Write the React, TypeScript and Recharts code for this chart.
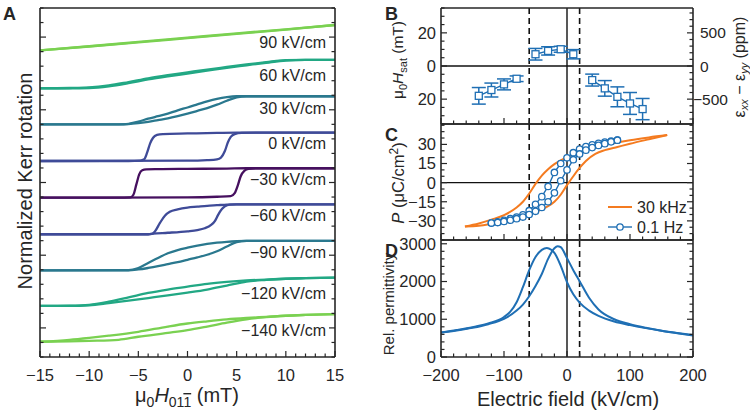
import React from "react";
import { LineChart, Line, XAxis, YAxis, ReferenceLine, ErrorBar } from "recharts";

const FONT = '"Liberation Sans", Arial, sans-serif';
const INK = "#262626";
const BLUE = "#1f6fb4";
const ORANGE = "#f47b20";

type Pt = [number, number];

// ---- panel A: Kerr loops, field in mT, normalised signal 0..1 per loop
const loopLabels = ["90 kV/cm", "60 kV/cm", "30 kV/cm", "0 kV/cm", "\u221230 kV/cm", "\u221260 kV/cm", "\u221290 kV/cm", "\u2212120 kV/cm", "\u2212140 kV/cm"];
const loopColors = ["#7ad151", "#22a884", "#2a788e", "#3f4b98", "#46105f", "#3f4b98", "#2a788e", "#22a884", "#7ad151"];
const loopBase = [21.09, 18.48, 16.0, 13.48, 10.96, 8.44, 5.96, 3.51, 1.05];
const loopSpan = [1.74, 1.95, 1.93, 1.95, 2.02, 2.06, 2.02, 1.95, 1.9];
const labelY = [42, 75, 108, 143, 179, 215, 252, 293, 330];

const up90: Pt[] = [[-15, 0], [-10, 0.15], [-5, 0.31], [0, 0.48], [5, 0.65], [10, 0.82], [15, 1]];
const down90: Pt[] = [[-15, 0], [-10, 0.16], [-5, 0.33], [0, 0.5], [5, 0.67], [10, 0.83], [15, 1]];
const up60: Pt[] = [[-15, 0], [-12, 0], [-10, 0.01], [-8, 0.07], [-6, 0.18], [-4, 0.31], [-2, 0.42], [0, 0.52], [2, 0.62], [4, 0.72], [6, 0.81], [8, 0.9], [10, 0.98], [12, 1], [15, 1]];
const down60: Pt[] = [[-15, 0], [-12, 0.01], [-10, 0.03], [-8, 0.1], [-6, 0.22], [-4, 0.35], [-2, 0.46], [0, 0.56], [2, 0.66], [4, 0.75], [6, 0.84], [8, 0.92], [10, 0.99], [12, 1], [15, 1]];
const up30: Pt[] = [[-15, 0], [-8, 0], [-6, 0.01], [-5, 0.04], [-4, 0.09], [-3, 0.15], [-2, 0.21], [-1, 0.29], [0, 0.38], [1, 0.48], [2, 0.58], [3, 0.7], [4, 0.84], [5, 0.96], [6, 1], [15, 1]];
const down30: Pt[] = [[-15, 0], [-7, 0], [-6, 0.02], [-5, 0.1], [-4, 0.2], [-3, 0.29], [-2, 0.38], [-1, 0.5], [0, 0.6], [1, 0.71], [2, 0.82], [3, 0.91], [4, 0.97], [5, 1], [15, 1]];
const up0: Pt[] = [[-15, 0], [0, 0.01], [2, 0.03], [3, 0.06], [3.4, 0.12], [3.8, 0.35], [4.1, 0.65], [4.4, 0.85], [4.8, 0.95], [5.5, 0.99], [7, 1], [15, 1]];
const down0: Pt[] = [[-15, 0], [-6, 0], [-4.8, 0.01], [-4.4, 0.06], [-4.1, 0.3], [-3.8, 0.62], [-3.5, 0.82], [-3.1, 0.92], [-2.5, 0.95], [0, 0.97], [3, 0.99], [5, 1], [15, 1]];
const upM30: Pt[] = [[-15, 0], [0, 0.01], [3, 0.03], [4.4, 0.05], [4.8, 0.15], [5.1, 0.4], [5.4, 0.72], [5.8, 0.92], [6.2, 0.98], [7, 1], [15, 1]];
const downM30: Pt[] = [[-15, 0], [-7, 0], [-5.8, 0.01], [-5.5, 0.1], [-5.2, 0.45], [-4.9, 0.8], [-4.6, 0.93], [-4.2, 0.96], [-3, 0.97], [0, 0.98], [4, 0.99], [6, 1], [15, 1]];
const upM60: Pt[] = [[-15, 0], [-4, 0], [-3.5, 0.02], [-2, 0.05], [0, 0.1], [1, 0.14], [1.75, 0.2], [2.4, 0.31], [2.8, 0.45], [3.1, 0.64], [3.5, 0.84], [3.8, 0.93], [4.3, 0.99], [5, 1], [15, 1]];
const downM60: Pt[] = [[-15, 0], [-4, 0], [-3.6, 0.01], [-3.3, 0.1], [-2.8, 0.38], [-2.3, 0.62], [-1.8, 0.75], [-1, 0.83], [0, 0.89], [1, 0.92], [2, 0.95], [3, 0.97], [4, 0.99], [5, 1], [15, 1]];
const upM90: Pt[] = [[-15, 0], [-6, 0], [-5, 0.03], [-4, 0.08], [-3, 0.14], [-2, 0.21], [-1, 0.28], [0, 0.36], [1, 0.44], [2, 0.53], [3, 0.65], [4, 0.81], [5, 0.96], [6, 1], [15, 1]];
const downM90: Pt[] = [[-15, 0], [-6, 0.01], [-5, 0.08], [-4, 0.25], [-3, 0.42], [-2, 0.58], [-1, 0.69], [0, 0.77], [1, 0.84], [2, 0.9], [3, 0.94], [4, 0.97], [5, 0.99], [6, 1], [15, 1]];
const upM120: Pt[] = [[-15, 0], [-12, 0], [-10, 0.02], [-8, 0.1], [-6, 0.19], [-4, 0.28], [-2, 0.37], [0, 0.47], [2, 0.58], [4, 0.72], [6, 0.86], [8, 0.92], [10, 0.96], [12, 0.98], [15, 1]];
const downM120: Pt[] = [[-15, 0], [-12, 0.01], [-10, 0.04], [-8, 0.15], [-6, 0.3], [-4, 0.46], [-2, 0.58], [0, 0.68], [2, 0.78], [4, 0.85], [6, 0.9], [8, 0.93], [10, 0.96], [12, 0.98], [15, 1]];
const upM140: Pt[] = [[-15, 0], [-12, 0.01], [-10, 0.03], [-7, 0.07], [-5, 0.18], [-2, 0.32], [0, 0.42], [2, 0.55], [4, 0.69], [6, 0.81], [8, 0.89], [10, 0.94], [12, 0.97], [15, 1]];
const downM140: Pt[] = [[-15, 0], [-12, 0.07], [-10, 0.14], [-8, 0.22], [-5, 0.36], [-2, 0.55], [0, 0.66], [2, 0.74], [4, 0.81], [6, 0.86], [8, 0.9], [10, 0.94], [12, 0.97], [15, 1]];

const loopUp = [up90, up60, up30, up0, upM30, upM60, upM90, upM120, upM140];
const loopDown = [down90, down60, down30, down0, downM30, downM60, downM90, downM120, downM140];

// ---- panel B: saturation field (E kV/cm, mT, error mT)
const satLeft: [number, number, number][] = [[-140, -18, 5], [-120, -14.5, 4.2], [-100, -11.1, 3.3], [-80, -7.7, 1.7]];
const satMid: [number, number, number][] = [[-50, 7.1, 3.5], [-30, 9.1, 2.5], [-10, 10.1, 1.8], [10, 7.1, 2.8]];
const satRight: [number, number, number][] = [[40, -8.5, 3.6], [60, -13.5, 4.7], [80, -18.6, 6], [100, -22.6, 6.6], [120, -26, 6.4]];

// ---- panel C: polarisation loops (E kV/cm, uC/cm2)
const p30kUpper: Pt[] = [[-162, -34.4], [-140, -32], [-120, -29], [-100, -25.5], [-80, -19.5], [-70, -15], [-60, -8.5], [-50, -1], [-40, 5.5], [-30, 10.5], [-20, 14.5], [-10, 17.5], [0, 20], [20, 24], [40, 27], [60, 29.5], [80, 31.5], [100, 33.3], [130, 35.5], [159, 37.3]];
const p30kLower: Pt[] = [[-162, -34.4], [-140, -33.8], [-120, -32.3], [-100, -30.5], [-80, -28], [-60, -25], [-40, -21], [-30, -18.5], [-20, -15], [-10, -9.5], [0, -2], [10, 5], [20, 11.5], [30, 17], [45, 22.5], [60, 25.5], [80, 28], [100, 30.5], [130, 34], [159, 37.3]];
const pSlowUpper: Pt[] = [[-120, -31.7], [-110, -30.8], [-100, -29.6], [-90, -28.3], [-80, -27], [-70, -25.3], [-60, -22], [-50, -17], [-40, -11], [-30, -3], [-20, 8], [-10, 15], [0, 19.5], [10, 23.5], [20, 26.3], [30, 28.3], [40, 29.7], [50, 30.8], [60, 31.8], [70, 32.6], [80, 33.3]];
const pSlowLower: Pt[] = [[-120, -31.7], [-110, -31.3], [-100, -30.5], [-90, -29.5], [-80, -28.3], [-70, -27], [-60, -25], [-50, -22.5], [-40, -19.5], [-30, -15], [-20, -8], [-10, 1.5], [0, 10], [10, 18], [20, 22.5], [30, 25.5], [40, 27.5], [50, 29.2], [60, 30.6], [70, 32], [80, 33.3]];

// ---- panel D: relative permittivity
const permA: Pt[] = [[-200, 650], [-175, 715], [-150, 790], [-125, 890], [-100, 1060], [-90, 1200], [-80, 1450], [-70, 1850], [-60, 2300], [-50, 2650], [-40, 2840], [-32, 2890], [-25, 2840], [-20, 2760], [-10, 2420], [0, 1980], [10, 1660], [20, 1440], [35, 1230], [50, 1090], [75, 940], [100, 845], [125, 765], [150, 695], [175, 635], [200, 580]];
const permB: Pt[] = [[-200, 650], [-175, 705], [-150, 775], [-125, 870], [-100, 1010], [-80, 1230], [-70, 1390], [-60, 1610], [-50, 1880], [-40, 2200], [-30, 2600], [-20, 2880], [-15, 2935], [-10, 2910], [0, 2620], [10, 2300], [20, 2010], [35, 1570], [50, 1260], [75, 1000], [100, 870], [125, 775], [150, 695], [175, 630], [200, 570]];

// field markers drawn across B-D
const coerciveMarks = [-60, 20];

const aXMajors = [-15, -10, -5, 0, 5, 10, 15];
const aYMajors = [2, 7, 12, 17, 22];
const eMajors = [-200, -100, 0, 100, 200];
const satMajors = [-20, 0, 20];
const strainMajors = [-500, 0, 500];
const pMajors = [-30, -15, 0, 15, 30];
const permMajors = [0, 1000, 2000, 3000];

const steps = (a: number, b: number, s: number) => {
  const out: number[] = [];
  for (let v = a; v <= b + 1e-9; v += s) out.push(Math.round(v * 1000) / 1000);
  return out;
};
const minus = (v: number) => (v < 0 ? `\u2212${Math.abs(v)}` : `${v}`);
const absFmt = (v: number) => `${Math.abs(v)}`;

type Side = "left" | "right" | "top" | "bottom";
const tickFactory = (side: Side, majors: number[], fmt?: (v: number) => string) => (props: any) => {
  const { x, y, payload } = props;
  const v = payload.value as number;
  const major = majors.some((m) => Math.abs(m - v) < 1e-6);
  const len = major ? 6 : 3.5;
  const d = side === "left" ? [len, 0] : side === "right" ? [-len, 0] : side === "top" ? [0, len] : [0, -len];
  let label: React.ReactNode = null;
  if (fmt && major) {
    const common = { fill: INK, fontSize: 16.5, fontFamily: FONT };
    if (side === "left") label = <text x={x - 5} y={y} dy="0.36em" textAnchor="end" {...common}>{fmt(v)}</text>;
    else if (side === "right")
      label = <text x={x + (v < 0 ? 0 : 7)} y={y} dy="0.36em" textAnchor="start" {...common} fontSize={15.5}>{fmt(v)}</text>;
    else if (side === "bottom") label = <text x={x} y={y + 24} textAnchor="middle" {...common}>{fmt(v)}</text>;
  }
  return (
    <g>
      <line x1={x} y1={y} x2={x + d[0]} y2={y + d[1]} stroke={INK} strokeWidth={1.2} />
      {label}
    </g>
  );
};

const axisLine = { stroke: INK, strokeWidth: 1.6 };

// axes need a non-zero thickness or recharts skips them; 1px is taken off the margins
function frame(o: {
  xDomain: [number, number];
  xTicks: number[];
  xMajors: number[];
  xFmt?: (v: number) => string;
  yDomain: [number, number];
  yTicks: number[];
  yMajors: number[];
  yFmt?: (v: number) => string;
  rDomain?: [number, number];
  rTicks?: number[];
  rMajors?: number[];
  rFmt?: (v: number) => string;
}) {
  const common = { tickSize: 0, tickMargin: 0, interval: 0 as const, tickLine: false, axisLine, allowDataOverflow: true, type: "number" as const };
  return [
    <XAxis key="xb" xAxisId="b" orientation="bottom" dataKey="x" height={1} domain={o.xDomain} ticks={o.xTicks} tick={tickFactory("bottom", o.xMajors, o.xFmt)} {...common} />,
    <XAxis key="xt" xAxisId="t" orientation="top" height={1} domain={o.xDomain} ticks={o.xTicks} tick={tickFactory("top", o.xMajors)} {...common} />,
    <YAxis key="yl" yAxisId="l" orientation="left" width={1} domain={o.yDomain} ticks={o.yTicks} tick={tickFactory("left", o.yMajors, o.yFmt)} {...common} />,
    <YAxis key="yr" yAxisId="r" orientation="right" width={1} domain={o.rDomain ?? o.yDomain} ticks={o.rTicks ?? o.yTicks} tick={tickFactory("right", o.rMajors ?? o.yMajors, o.rFmt)} {...common} />,
  ];
}

const toRows = (pts: Pt[]) => pts.map(([x, y]) => ({ x, y }));
const loopRows = (pts: Pt[], i: number) => pts.map(([x, m]) => ({ x, y: loopBase[i] + loopSpan[i] * m }));
const satRows = (pts: [number, number, number][]) => pts.map(([x, y, err]) => ({ x, y, err }));

const squareDot = (p: any) => (
  <rect key={`s${p.index}-${p.cx}`} x={p.cx - 3.5} y={p.cy - 3.5} width={7} height={7} fill="#fff" stroke={BLUE} strokeWidth={1.3} />
);
const circleDot = (p: any) => (
  <circle key={`c${p.index}-${p.cx}`} cx={p.cx} cy={p.cy} r={3.2} fill="#fff" stroke={BLUE} strokeWidth={1.3} />
);

const markerLines = (withZeroY: boolean) => [
  <ReferenceLine key="e0" xAxisId="b" yAxisId="l" x={0} stroke="#111" strokeWidth={1.4} />,
  ...coerciveMarks.map((e) => (
    <ReferenceLine key={`m${e}`} xAxisId="b" yAxisId="l" x={e} stroke="#111" strokeWidth={1.6} strokeDasharray="6 4" />
  )),
  ...(withZeroY ? [<ReferenceLine key="y0" xAxisId="b" yAxisId="l" y={0} stroke="#111" strokeWidth={1.4} />] : []),
];

const eFrame = { xDomain: [-200, 200] as [number, number], xTicks: steps(-200, 200, 20), xMajors: eMajors };
const rightPos: React.CSSProperties = { position: "absolute", left: 380, top: 0 };

export default function App() {
  return (
    <div style={{ position: "absolute", left: 0, top: 0, width: 750, height: 416, background: "#fff", fontFamily: FONT }}>
      <div style={{ position: "absolute", left: 0, top: 0 }}>
        <LineChart width={345} height={416} margin={{ top: 7, right: 9, bottom: 58, left: 39 }}>
          {frame({
            xDomain: [-15, 15], xTicks: steps(-15, 15, 1), xMajors: aXMajors, xFmt: minus,
            yDomain: [0, 24], yTicks: steps(0, 24, 1), yMajors: aYMajors,
          })}
          {loopUp.map((pts, i) => (
            <Line key={`u${i}`} xAxisId="b" yAxisId="l" data={loopRows(pts, i)} dataKey="y" type="monotone" stroke={loopColors[i]} strokeWidth={2.3} dot={false} isAnimationActive={false} />
          ))}
          {loopDown.map((pts, i) => (
            <Line key={`d${i}`} xAxisId="b" yAxisId="l" data={loopRows(pts, i)} dataKey="y" type="monotone" stroke={loopColors[i]} strokeWidth={2.3} dot={false} isAnimationActive={false} />
          ))}
        </LineChart>
      </div>

      <div style={rightPos}>
        <LineChart width={370} height={416} margin={{ top: 7, right: 56, bottom: 291, left: 60 }}>
          {frame({
            ...eFrame,
            yDomain: [-35, 35], yTicks: steps(-35, 35, 5), yMajors: satMajors, yFmt: absFmt,
            rDomain: [-875, 875], rTicks: steps(-800, 800, 100), rMajors: strainMajors, rFmt: minus,
          })}
          {markerLines(true)}
          {[satLeft, satMid, satRight].map((g, i) => (
            <Line key={`sat${i}`} xAxisId="b" yAxisId="l" data={satRows(g)} dataKey="y" type="linear" stroke={BLUE} strokeWidth={1.4} dot={squareDot} isAnimationActive={false}>
              <ErrorBar dataKey="err" width={7} stroke={BLUE} strokeWidth={1.5} direction="y" />
            </Line>
          ))}
        </LineChart>
      </div>

      <div style={rightPos}>
        <LineChart width={370} height={416} margin={{ top: 123, right: 56, bottom: 175, left: 60 }}>
          {frame({
            ...eFrame,
            yDomain: [-45, 46], yTicks: steps(-45, 45, 5), yMajors: pMajors, yFmt: minus,
          })}
          {markerLines(true)}
          <Line xAxisId="b" yAxisId="l" data={toRows(p30kUpper)} dataKey="y" type="monotone" stroke={ORANGE} strokeWidth={2} dot={false} isAnimationActive={false} />
          <Line xAxisId="b" yAxisId="l" data={toRows(p30kLower)} dataKey="y" type="monotone" stroke={ORANGE} strokeWidth={2} dot={false} isAnimationActive={false} />
          <Line xAxisId="b" yAxisId="l" data={toRows(pSlowUpper)} dataKey="y" type="linear" stroke={BLUE} strokeWidth={1.4} dot={circleDot} isAnimationActive={false} />
          <Line xAxisId="b" yAxisId="l" data={toRows(pSlowLower)} dataKey="y" type="linear" stroke={BLUE} strokeWidth={1.4} dot={circleDot} isAnimationActive={false} />
        </LineChart>
      </div>

      <div style={rightPos}>
        <LineChart width={370} height={416} margin={{ top: 239, right: 56, bottom: 58, left: 60 }}>
          {frame({
            ...eFrame, xFmt: minus,
            yDomain: [0, 3100], yTicks: steps(0, 3000, 200), yMajors: permMajors, yFmt: minus,
          })}
          {markerLines(false)}
          <Line xAxisId="b" yAxisId="l" data={toRows(permA)} dataKey="y" type="monotone" stroke={BLUE} strokeWidth={2} dot={false} isAnimationActive={false} />
          <Line xAxisId="b" yAxisId="l" data={toRows(permB)} dataKey="y" type="monotone" stroke={BLUE} strokeWidth={2} dot={false} isAnimationActive={false} />
        </LineChart>
      </div>

      <svg width={750} height={416} style={{ position: "absolute", left: 0, top: 0, pointerEvents: "none" }} fontFamily={FONT} fill={INK}>
        <text x={3} y={20} fontSize={18} fontWeight="bold">A</text>
        <text x={385} y={20} fontSize={18} fontWeight="bold">B</text>
        <text x={385} y={141} fontSize={18} fontWeight="bold">C</text>
        <text x={385} y={257} fontSize={18} fontWeight="bold">D</text>

        {loopLabels.map((t, i) => (
          <text key={t} x={326} y={labelY[i]} dy="0.36em" textAnchor="end" fontSize={16}>{t}</text>
        ))}

        <text transform="translate(32,181) rotate(-90)" textAnchor="middle" fontSize={20}>Normalized Kerr rotation</text>
        <text x={187} y={402} textAnchor="middle" fontSize={20}>
          {"\u03bc"}<tspan fontSize={14} dy={5}>0</tspan><tspan fontStyle="italic" dy={-5}>H</tspan><tspan fontSize={14} dy={5}>01</tspan><tspan fontSize={14} textDecoration="overline">1</tspan><tspan dy={-5}>{"\u00a0(mT)"}</tspan>
        </text>
        <text x={568} y={406} textAnchor="middle" fontSize={20}>Electric field (kV/cm)</text>

        <text transform="translate(403,60) rotate(-90)" textAnchor="middle" fontSize={15.5}>
          {"\u03bc"}<tspan fontSize={11} dy={4}>0</tspan><tspan fontStyle="italic" dy={-4}>H</tspan><tspan fontSize={11} dy={4}>sat</tspan><tspan dy={-4}>{"\u00a0(mT)"}</tspan>
        </text>
        <text transform="translate(404,183) rotate(-90)" textAnchor="middle" fontSize={16.5}>
          <tspan fontStyle="italic">P</tspan>{"\u00a0(\u03bcC/cm"}<tspan fontSize={12} dy={-6}>2</tspan><tspan dy={6}>)</tspan>
        </text>
        <text transform="translate(394,304) rotate(-90)" textAnchor="middle" fontSize={15}>Rel. permittivity</text>
        <text transform="translate(745,67) rotate(-90)" textAnchor="middle" fontSize={16}>
          {"\u03b5"}<tspan fontSize={11} dy={3} fontStyle="italic">xx</tspan><tspan dy={-3}>{"\u00a0\u2212\u00a0\u03b5"}</tspan><tspan fontSize={11} dy={3} fontStyle="italic">yy</tspan><tspan dy={-3}>{"\u00a0(ppm)"}</tspan>
        </text>

        <line x1={608} x2={632} y1={207} y2={207} stroke={ORANGE} strokeWidth={2} />
        <text x={637} y={207} dy="0.36em" fontSize={16}>30 kHz</text>
        <line x1={608} x2={632} y1={227} y2={227} stroke={BLUE} strokeWidth={1.4} />
        <circle cx={620} cy={227} r={3.2} fill="#fff" stroke={BLUE} strokeWidth={1.3} />
        <text x={637} y={227} dy="0.36em" fontSize={16}>0.1 Hz</text>
      </svg>
    </div>
  );
}
